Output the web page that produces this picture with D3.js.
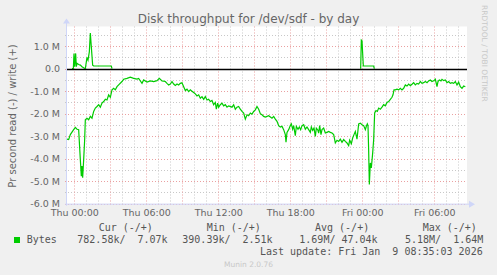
<!DOCTYPE html>
<html>
<head>
    <script src="https://d3js.org/d3.v7.min.js"></script>
    <style>
        body {
            margin: 0;
            background-color: #f0f0f0;
        }

        svg text {
            font-family: 'DejaVu Sans', sans-serif;
            fill: #666;
        }

        .mono {
            font-family: 'DejaVu Sans Mono', monospace;
            white-space: pre;
        }
    </style>
</head>

<body>
    <svg id="chart" width="497" height="275"></svg>
    <script>
        // hours relative to Thu 00:00, values in M (bytes/s)
        var readHours = [-0.61, -0.469, -0.331, -0.053, 0.086, 0.225, 0.364, 0.503, 0.586, 0.642, 0.697, 0.781, 0.864, 0.919,
            1.058, 1.197, 1.336, 1.475, 1.614, 1.753, 1.892, 2.031, 2.169, 2.308, 2.447, 2.586, 2.725, 2.864, 3.003,
            3.142, 3.281, 3.419, 3.558, 3.697, 3.975, 4.114, 4.392, 4.669, 4.947, 5.225, 5.364, 5.642, 5.781, 6.058,
            6.336, 6.614, 6.892, 7.086, 7.308, 7.586, 7.725, 7.864, 8.003, 8.142, 8.281, 8.419, 8.558, 8.697, 8.836,
            8.975, 9.114, 9.253, 9.392, 9.530, 9.669, 9.808, 9.947, 10.086, 10.225, 10.364, 10.503, 10.642, 10.781,
            10.919, 11.058, 11.197, 11.336, 11.475, 11.614, 11.753, 11.836, 11.947, 12.031, 12.169, 12.308, 12.447,
            12.586, 12.725, 12.864, 13.142, 13.281, 13.419, 13.558, 13.697, 13.836, 13.975, 14.114, 14.253, 14.392,
            14.530, 14.669, 14.808, 14.947, 15.086, 15.225, 15.364, 15.503, 15.642, 15.781, 15.919, 16.197, 16.475,
            16.614, 16.753, 16.892, 17.030, 17.169, 17.308, 17.447, 17.586, 17.642, 17.725, 17.864, 18.003, 18.086,
            18.197, 18.280, 18.419, 18.503, 18.642, 18.753, 18.864, 18.975, 19.114, 19.253, 19.392, 19.530, 19.669,
            19.753, 19.864, 19.975, 20.086, 20.169, 20.280, 20.364, 20.447, 20.558, 20.642, 20.780, 20.919, 21.058,
            21.197, 21.336, 21.475, 21.614, 21.753, 21.892, 22.030, 22.169, 22.308, 22.447, 22.586, 22.725, 22.864,
            22.947, 23.086, 23.197, 23.308, 23.419, 23.558, 23.697, 23.836, 23.975, 24.114, 24.253, 24.336, 24.419,
            24.475, 24.530, 24.586, 24.669, 24.753, 24.864, 24.947, 25.030, 25.142, 25.253, 25.364, 25.503, 25.642,
            25.780, 25.919, 26.058, 26.197, 26.336, 26.475, 26.558, 26.642, 26.753, 26.892, 27.030, 27.169, 27.308,
            27.447, 27.586, 27.725, 27.864, 28.003, 28.142, 28.280, 28.419, 28.558, 28.697, 28.836, 28.975, 29.114,
            29.253, 29.392, 29.530, 29.669, 29.808, 29.947, 30.086, 30.225, 30.308, 30.419, 30.558, 30.642, 30.780,
            30.919, 31.058, 31.197, 31.336, 31.475, 31.614, 31.753, 31.892, 32.030, 32.169, 32.308, 32.447, 32.586];
        var readValues = [3.13, 3.15, 2.93, 2.71, 2.61, 2.69, 2.71, 4.04, 4.78, 4.33, 4.85, 4.04, 3.15, 2.27,
            2.20, 2.27, 2.12, 2.20, 1.90, 1.75, 1.68, 1.60, 1.71, 1.53, 1.46, 1.36, 1.39, 1.16, 1.27,
            0.94, 0.87, 0.94, 0.80, 0.72, 0.57, 0.47, 0.43, 0.38, 0.43, 0.46, 0.43, 0.65, 0.50, 0.59,
            0.54, 0.57, 0.53, 0.43, 0.54, 0.57, 0.65, 0.72, 0.68, 0.57, 0.68, 0.74, 0.68, 0.72, 0.65,
            0.62, 0.80, 0.97, 0.91, 1.02, 0.94, 1.00, 1.06, 1.12, 1.21, 1.16, 1.31, 1.24, 1.36,
            1.24, 1.39, 1.36, 1.46, 1.41, 1.60, 1.50, 1.80, 1.53, 1.71, 1.60, 1.53, 1.65,
            1.60, 1.71, 1.65, 1.71, 1.60, 1.80, 1.71, 1.68, 1.80, 1.90, 1.97, 2.24, 2.05,
            2.09, 1.97, 2.02, 1.90, 1.83, 1.68, 1.80, 2.00, 2.05, 2.12, 2.15, 2.09, 2.20,
            2.12, 2.24, 2.34, 2.53, 2.59, 2.56, 2.71, 2.93, 3.27, 2.83, 2.71, 2.53, 2.45,
            2.69, 2.53, 2.98, 2.56, 2.69, 2.59, 2.71, 2.53, 2.49, 2.69, 2.59, 2.71, 2.83,
            2.59, 2.74, 2.64, 3.01, 2.64, 2.71, 2.86, 2.53, 2.93, 2.71, 2.64, 2.86, 2.83,
            2.79, 2.83, 2.86, 2.93, 3.30, 3.18, 3.23, 3.13, 3.27, 3.15, 3.23, 3.30, 3.42,
            3.18, 3.33, 3.08, 2.93, 2.79, 3.13, 2.45, 2.42, 2.49, 2.53, 2.71, 2.56, 2.45,
            2.53, 3.63, 5.15, 4.19, 4.41, 3.75, 3.15, 1.97, 1.86, 1.90, 1.75, 1.80, 1.71,
            1.60, 1.65, 1.50, 1.46, 1.36, 1.27, 1.16, 0.94, 0.94, 0.91, 0.94, 0.87, 0.94,
            0.87, 0.72, 0.77, 0.68, 0.75, 0.69, 0.62, 0.72, 0.65, 0.68, 0.57, 0.65, 0.62,
            0.57, 0.62, 0.54, 0.50, 0.57, 0.54, 0.47, 0.80, 0.57, 0.50, 0.54, 0.47, 0.53,
            0.50, 0.62, 0.57, 0.65, 0.62, 0.65, 0.57, 0.72, 0.60, 0.80, 0.87, 0.77, 0.80];
        // write is only visible above the zero rule in two bursts; null marks a gap
        var writeHours = [-0.19, -0.081, -0.025, 0.031, 0.114, 0.169, 0.225, 0.364, 0.503, 0.642, 0.808, 0.919,
            1.058, 1.142, 1.253, 1.336, 1.419, 1.530, 1.614, 3.086, 3.142, 3.2,
            23.864, 23.919, 23.975, 24.03, 24.086, 24.947, 25.003];
        var writeValues = [0, 0, 0.68, 0.09, 0.68, 0.09, 0.24, 0.19, 0.16, 0.09, 0.03, 0,
            0.50, 0.38, 0.75, 1.59, 0.97, 0.16, 0.12, 0.12, 0, null,
            0, 1.27, 1.24, 0.68, 0.12, 0.12, 0];

        var xLabelHours = [0, 6, 12, 18, 24, 30];
        var xLabels = ['Thu 00:00', 'Thu 06:00', 'Thu 12:00', 'Thu 18:00', 'Fri 00:00', 'Fri 06:00'];
        var yTicks = [1, 0, -1, -2, -3, -4, -5, -6];
        var yLabels = ['1.0 M', '0.0', '-1.0 M', '-2.0 M', '-3.0 M', '-4.0 M', '-5.0 M', '-6.0 M'];

        var legendHeads = ['Cur (-/+)', 'Min (-/+)', 'Avg (-/+)', 'Max (-/+)'];
        var legendVals = ['782.58k/  7.07k', '390.39k/  2.51k', '1.69M/ 47.04k', '5.18M/  1.64M'];

        function draw() {
            var svg = d3.select('#chart');
            var pl = 67, pr = 467, pt = 26.5, pb = 203.7;

            var x = d3.scaleLinear().domain([-0.608, 32.725]).range([pl, pr]);
            var y = d3.scaleLinear().domain([-6, 1.876]).range([pb, pt]);

            // canvas
            svg.append('rect').attr('x', pl).attr('y', pt)
                .attr('width', pr - pl).attr('height', pb - pt).attr('fill', '#fff');

            // grid
            var hours = d3.range(0, 33);
            var grid = svg.append('g');
            grid.selectAll('.vmin').data(hours.filter(h => h % 3 != 0)).join('line')
                .attr('x1', d => Math.round(x(d)) + 0.5).attr('x2', d => Math.round(x(d)) + 0.5)
                .attr('y1', pt).attr('y2', pb + 2)
                .attr('stroke', '#c8c8c8').attr('stroke-dasharray', '1,2');
            grid.selectAll('.hmin').data(d3.range(-5.5, 1.6, 1)).join('line')
                .attr('x1', pl - 2).attr('x2', pr)
                .attr('y1', d => Math.round(y(d)) + 0.5).attr('y2', d => Math.round(y(d)) + 0.5)
                .attr('stroke', '#c8c8c8').attr('stroke-dasharray', '1,2');
            grid.selectAll('.vmaj').data(hours.filter(h => h % 3 == 0)).join('line')
                .attr('x1', d => Math.round(x(d)) + 0.5).attr('x2', d => Math.round(x(d)) + 0.5)
                .attr('y1', pt).attr('y2', pb + 2)
                .attr('stroke', '#eaa0a0').attr('stroke-dasharray', '1,2');
            grid.selectAll('.hmaj').data(yTicks).join('line')
                .attr('x1', pl - 2).attr('x2', pr)
                .attr('y1', d => Math.round(y(d)) + 0.5).attr('y2', d => Math.round(y(d)) + 0.5)
                .attr('stroke', '#eaa0a0').attr('stroke-dasharray', '1,2');

            // axes lines + arrows
            var axisColor = '#cfd6f8';
            svg.append('line').attr('x1', pl - 0.5).attr('x2', pl - 0.5).attr('y1', pb + 2).attr('y2', pt - 4)
                .attr('stroke', axisColor);
            svg.append('line').attr('x1', pl - 2).attr('x2', pr + 3).attr('y1', pb + 0.5).attr('y2', pb + 0.5)
                .attr('stroke', axisColor);
            svg.append('path').attr('d', `M${pl - 4},${pt - 3}L${pl + 3},${pt - 3}L${pl - 0.5},${pt - 8}Z`)
                .attr('fill', axisColor);
            svg.append('path').attr('d', `M${pr + 2},${pb - 3}L${pr + 2},${pb + 4}L${pr + 8},${pb + 0.5}Z`)
                .attr('fill', axisColor);

            // tick labels
            var xAxis = d3.axisBottom(x).tickValues(xLabelHours).tickSize(0).tickPadding(0)
                .tickFormat((d, i) => xLabels[i]);
            var gx = svg.append('g').attr('transform', `translate(0,${pb + 5.5})`).call(xAxis);
            gx.select('.domain').remove();
            gx.selectAll('text').attr('dy', '0.71em').attr('font-size', '9.5px').attr('fill', '#666')
                .style('font-family', "'DejaVu Sans', sans-serif");

            var yAxis = d3.axisLeft(y).tickValues(yTicks).tickSize(0).tickPadding(7)
                .tickFormat((d, i) => yLabels[i]);
            var gy = svg.append('g').attr('transform', `translate(${pl},0)`).call(yAxis);
            gy.select('.domain').remove();
            gy.selectAll('text').attr('font-size', '9.5px').attr('fill', '#666')
                .style('font-family', "'DejaVu Sans', sans-serif");

            // zero rule
            svg.append('line').attr('x1', pl).attr('x2', pr).attr('y1', Math.round(y(0)) + 0.5).attr('y2', Math.round(y(0)) + 0.5)
                .attr('stroke', '#000');

            // data lines
            var readPts = readHours.map((h, i) => [h, -readValues[i]]);
            var writePts = writeHours.map((h, i) => [h, writeValues[i]]);
            var line = d3.line().defined(d => d[1] !== null).x(d => x(d[0])).y(d => y(d[1]));
            svg.append('path').datum(readPts).attr('d', line)
                .attr('fill', 'none').attr('stroke', '#00cc00').attr('stroke-width', 1.2);
            svg.append('path').datum(writePts).attr('d', line)
                .attr('fill', 'none').attr('stroke', '#00cc00').attr('stroke-width', 1.2);

            // zero rule again on top, covering the flat write stretches
            svg.append('line').attr('x1', pl).attr('x2', pr).attr('y1', Math.round(y(0)) + 0.5).attr('y2', Math.round(y(0)) + 0.5)
                .attr('stroke', '#000').attr('stroke-width', 1.3);

            // title
            svg.append('text').attr('x', 248.5).attr('y', 23).attr('text-anchor', 'middle')
                .attr('font-size', '12px').text('Disk throughput for /dev/sdf - by day');

            // vertical label
            svg.append('text').attr('transform', 'translate(16,116) rotate(-90)').attr('text-anchor', 'middle')
                .attr('font-size', '10px').text('Pr second read (-) / write (+)');

            // watermark
            svg.append('text').attr('transform', 'translate(482,5) rotate(90)').attr('font-size', '7.5px')
                .style('fill', '#c8c8c8').text('RRDTOOL / TOBI OETIKER');

            // legend
            var headX = [98.7, 206.7, 315, 422.7];
            var valX = [77.3, 182.3, 299.3, 405];
            svg.selectAll('.lh').data(legendHeads).join('text').attr('class', 'mono')
                .attr('x', (d, i) => headX[i]).attr('y', 230.5).attr('font-size', '10px').style('fill', '#555').text(d => d);
            svg.append('rect').attr('x', 14).attr('y', 237).attr('width', 6).attr('height', 6).attr('fill', '#00cc00');
            svg.append('text').attr('class', 'mono').attr('x', 26.7).attr('y', 243).attr('font-size', '10px')
                .style('fill', '#555').text('Bytes');
            svg.selectAll('.lv').data(legendVals).join('text').attr('class', 'mono')
                .attr('x', (d, i) => valX[i]).attr('y', 243).attr('font-size', '10px').style('fill', '#555').text(d => d);
            svg.append('text').attr('class', 'mono').attr('x', 482.7).attr('y', 255).attr('text-anchor', 'end')
                .attr('font-size', '10px').style('fill', '#555').text('Last update: Fri Jan  9 08:35:03 2026');
            svg.append('text').attr('x', 248.5).attr('y', 266.5).attr('text-anchor', 'middle').attr('font-size', '7.5px')
                .style('fill', '#c8c8c8').text('Munin 2.0.76');
        }
        draw();
    </script>
</body>
</html>
